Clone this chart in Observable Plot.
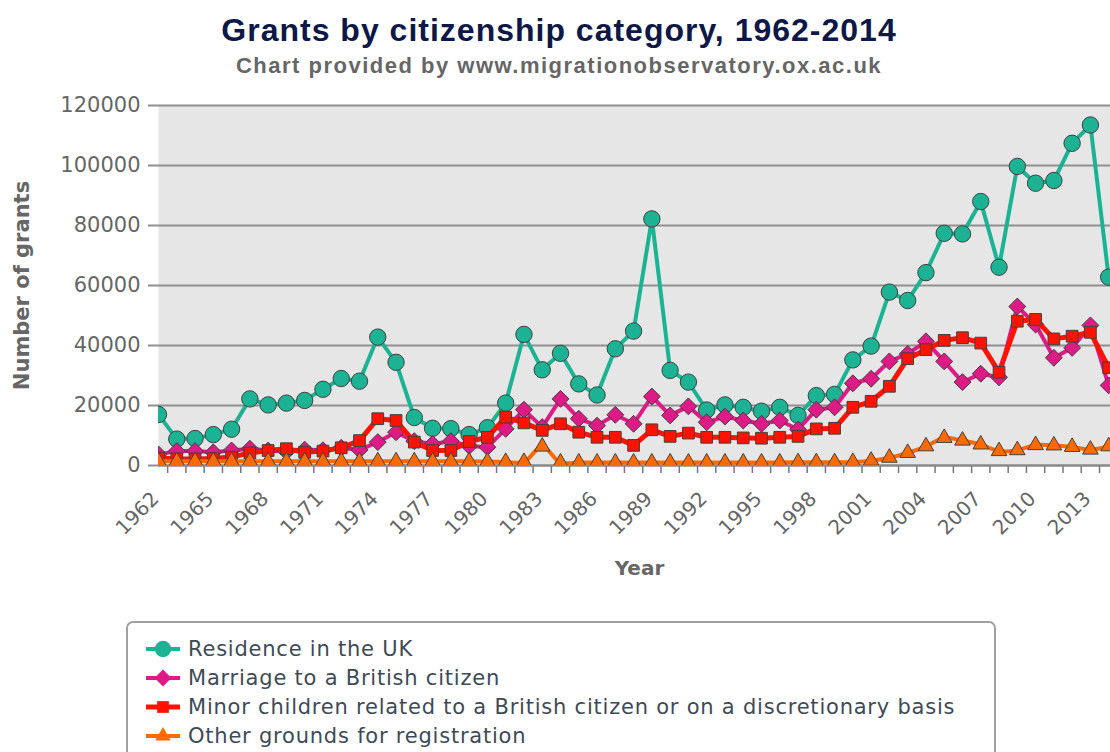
<!DOCTYPE html>
<html>
<head>
<meta charset="utf-8">
<script src="https://cdn.jsdelivr.net/npm/d3@7"></script>
<script src="https://cdn.jsdelivr.net/npm/@observablehq/plot@0.6"></script>
<style>
  html, body { margin: 0; padding: 0; background: #fff; overflow: hidden; }
  #wrap { position: relative; width: 1110px; height: 752px; overflow: hidden; }
  #title { position: absolute; left: 0; width: 1118px; top: 12px; text-align: center;
    font: bold 32px "Liberation Sans", Arial, sans-serif; color: #0d1847; letter-spacing: 1px; }
  #subtitle { position: absolute; left: 0; width: 1118px; top: 53px; text-align: center;
    font: bold 22px "Liberation Sans", Arial, sans-serif; color: #666; letter-spacing: 1.5px; }
  #chart { position: absolute; left: 0; top: 90px; }
  #legend { position: absolute; left: 126px; top: 621px; width: 866px; height: 160px;
    border: 2px solid #a0a0a0; border-radius: 7px; background: #fff; }
  .item { position: absolute; left: 17px; height: 28px; display: flex; align-items: center; }
  .item svg { width: 36px; height: 28px; }
  .item span { margin-left: 7px; font: 21px "DejaVu Sans", sans-serif; color: #3e4a56; letter-spacing: 0.78px; white-space: nowrap; }
</style>
</head>
<body>
<div id="wrap">
  <div id="title">Grants by citizenship category, 1962-2014</div>
  <div id="subtitle">Chart provided by www.migrationobservatory.ox.ac.uk</div>
  <div id="chart"></div>
  <div id="legend"></div>
</div>
<script>
// ---- data ----
const years = [1962,1963,1964,1965,1966,1967,1968,1969,1970,1971,1972,1973,1974,1975,1976,1977,1978,1979,1980,1981,1982,1983,1984,1985,1986,1987,1988,1989,1990,1991,1992,1993,1994,1995,1996,1997,1998,1999,2000,2001,2002,2003,2004,2005,2006,2007,2008,2009,2010,2011,2012,2013,2014];
const residence = [17000,8800,9000,10300,12100,22200,20200,20800,21700,25400,29000,28100,42800,34400,16000,12400,12300,10300,12600,20800,43700,31900,37400,27200,23500,38900,44800,82200,31700,27800,18500,20200,19400,18100,19400,16700,23300,23700,35200,39800,57800,55000,64300,77400,77200,88000,66100,99700,94100,95000,107400,113500,62800];
const marriage = [3700,4800,4800,4400,5000,5600,5000,4600,5300,5100,5900,5200,7800,11100,8100,7200,8100,6500,6100,12200,18600,12800,22200,15600,13300,16900,13900,23000,16700,19700,14400,16300,15000,13900,15000,12000,18600,19400,27400,28900,34700,37200,41400,34700,27800,30600,29400,53000,47000,35900,39200,46700,26700];
const minorChildren = [2500,2200,2200,2300,2800,4200,5000,5600,4400,4800,5900,8300,15600,15000,7800,5000,5000,8000,9400,16100,14200,11700,13900,11100,9400,9400,6700,11900,9700,10800,9400,9400,9200,9100,9400,9700,12200,12400,19400,21400,26400,35600,38600,41700,42600,40800,31100,48100,48700,42200,43100,44400,32600];
const otherGrounds = [1400,1400,1400,1400,1400,1400,1400,1400,1400,1400,1400,1400,1400,1400,1400,1400,1400,1400,1300,1200,1200,6300,1000,1000,1000,1000,1000,1000,1000,1000,1000,1000,1000,1000,1000,1100,1100,1100,1200,1600,2600,4200,6400,9200,8300,7000,4800,5100,6800,6700,6200,5300,6400];
const seriesNames = ["Residence in the UK","Marriage to a British citizen","Minor children related to a British citizen or on a discretionary basis","Other grounds for registration"];
const xTickLabels = [1962,1965,1968,1971,1974,1977,1980,1983,1986,1989,1992,1995,1998,2001,2004,2007,2010,2013];
const yTickValues = [0,20000,40000,60000,80000,100000,120000];

// ---- build tables ----
const seriesValues = [residence, marriage, minorChildren, otherGrounds];
const tables = seriesValues.map(vals => years.map((yr, i) => ({year: yr, value: vals[i]})));
const betweenTicks = years.slice(0, -1).map(y => y + 0.5);

const colors = ["#1bb394", "#dd1a86", "#ff1200", "#ff6a00"];
const symbols = ["circle", "diamond2", "square", "triangle"];
const radii = [8.2, 7.6, 6.6, 5.8];
const widths = [4, 4, 5, 4];

const marks = [
  Plot.frame({fill: "#e6e6e6", stroke: null}),
  Plot.gridY(yTickValues, {stroke: "#8f8f8f", strokeOpacity: 1, strokeWidth: 2}),
  Plot.axisY(yTickValues, {tickSize: 10, tickPadding: 8, tickFormat: d => String(d), fontSize: 21,
    fill: "#666", stroke: "#8f8f8f", strokeWidth: 2, label: null}),
  Plot.axisX(xTickLabels, {tickSize: 0, tickRotate: -45, tickPadding: 30, dx: -3, tickFormat: d => String(d),
    fontSize: 20, fill: "#666", label: null}),
  Plot.axisX(betweenTicks, {tickSize: 8, tickFormat: () => "", stroke: "#777", strokeWidth: 1.5, label: null}),
  Plot.ruleY([0], {stroke: "#888", strokeWidth: 2}),
  Plot.text(["Number of grants"], {text: d => d, frameAnchor: "left", textAnchor: "middle", dx: -136, rotate: -90,
    fontSize: 21, fontWeight: "bold", fill: "#666"}),
  Plot.text(["Year"], {text: d => d, frameAnchor: "bottom", dx: 5, dy: 109,
    fontSize: 20, fontWeight: "bold", fill: "#666"})
];
tables.forEach((t, i) => {
  marks.push(Plot.line(t, {x: "year", y: "value", stroke: colors[i], strokeWidth: widths[i],
    curve: i === 3 ? "catmull-rom" : "linear", clip: "frame"}));
  marks.push(Plot.dot(t, {x: "year", y: "value", symbol: () => symbols[i], r: radii[i],
    fill: colors[i], stroke: "#404040", strokeWidth: 1, clip: "frame"}));
});

const chart = Plot.plot({
  width: 1110, height: 520,
  marginTop: 15, marginLeft: 158, marginRight: 0, marginBottom: 145,
  x: {domain: [1962, 2014.1]},
  y: {domain: [0, 120000]},
  symbol: {type: "identity"},
  style: {fontFamily: "'DejaVu Sans', sans-serif", background: "transparent", overflow: "visible"},
  marks
});
document.getElementById("chart").appendChild(chart);

// ---- legend ----
const legend = document.getElementById("legend");
const rowCenters = [26, 55, 84, 113];
seriesNames.forEach((name, i) => {
  const item = document.createElement("div");
  item.className = "item";
  item.style.top = (rowCenters[i] - 14) + "px";
  const sym = d3.symbol(d3[{circle: "symbolCircle", diamond2: "symbolDiamond2", square: "symbolSquare", triangle: "symbolTriangle"}[symbols[i]]], Math.PI * radii[i] * radii[i])();
  item.innerHTML = `<svg viewBox="0 0 36 28"><line x1="1" x2="35" y1="14" y2="14" stroke="${colors[i]}" stroke-width="${widths[i]}"/>` +
    `<path d="${sym}" transform="translate(18,14)" fill="${colors[i]}"/></svg><span>${name}</span>`;
  legend.appendChild(item);
});
</script>
</body>
</html>
